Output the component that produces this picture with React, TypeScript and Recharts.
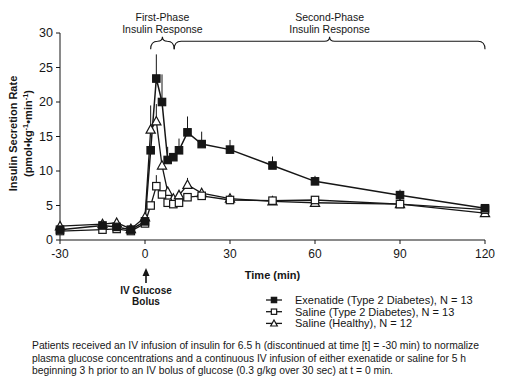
import { ErrorBar, Line, LineChart, ReferenceLine, XAxis, YAxis } from "recharts"

const times = [-30, -15, -10, -5, 0, 2, 4, 6, 8, 10, 12, 15, 20, 30, 45, 60, 90, 120]
const exenatide = [1.5, 2.1, 1.9, 1.5, 2.7, 13.0, 23.4, 20.0, 11.6, 12.0, 13.0, 15.6, 13.9, 13.1, 10.8, 8.5, 6.5, 4.6]
const exenatideErr = [0.2, 0.2, 0.2, 0.2, 0.3, 0, 3.5, 4.0, 1.9, 0, 1.7, 2.3, 1.8, 1.4, 1.3, 0.8, 0.8, 0.5]
const salineT2D = [1.3, 1.5, 1.6, 1.3, 2.4, 5.0, 7.8, 6.6, 5.4, 5.2, 5.4, 6.2, 6.4, 5.8, 5.7, 5.8, 5.2, 4.4]
const salineT2DErr = [0.2, 0.2, 0.2, 0.2, 0.3, 0.5, 1.6, 0, 0, 0, 0, 0, 0, 0, 0.4, 0.3, 0.3, 0.3]
const salineHealthy = [2.0, 2.3, 2.5, 1.6, 3.3, 16.0, 17.2, 10.8, 7.0, 6.0, 6.5, 8.0, 6.8, 6.0, 5.6, 5.4, 5.2, 3.9]
const salineHealthyErr = [0.2, 0.3, 0.3, 0.2, 0.3, 3.5, 2.5, 0, 0, 0, 0, 1.0, 0, 0.5, 0.5, 0.3, 0.3, 0.3]

const xTicks = [-30, 0, 30, 60, 90, 120]
const yTicks = [0, 5, 10, 15, 20, 25, 30]

const legendNames = [
  "Exenatide (Type 2 Diabetes), N = 13",
  "Saline (Type 2 Diabetes), N = 13",
  "Saline (Healthy), N = 12",
]

const footnote = [
  "Patients received an IV infusion of insulin for 6.5 h (discontinued at time [t] = -30 min) to normalize",
  "plasma glucose concentrations and a continuous IV infusion of either exenatide or saline for 5 h",
  "beginning 3 h prior to an IV bolus of glucose (0.3 g/kg over 30 sec) at t = 0 min.",
]

const data = times.map((t, i) => ({
  t,
  ex: exenatide[i],
  exErr: [0, exenatideErr[i]],
  t2d: salineT2D[i],
  t2dErr: [0, salineT2DErr[i]],
  hl: salineHealthy[i],
  hlErr: [0, salineHealthyErr[i]],
}))

const INK = "#161616"
const FONT = "'Liberation Sans', Arial, sans-serif"

function marker(kind: string, cx: number, cy: number, key?: any, s = 1) {
  if (kind === "tri") {
    return (
      <polygon
        key={key}
        points={`${cx},${cy - 4.8 * s} ${cx + 4.6 * s},${cy + 3.6 * s} ${cx - 4.6 * s},${cy + 3.6 * s}`}
        fill="#fff"
        stroke={INK}
        strokeWidth={1.2}
      />
    )
  }
  return (
    <rect
      key={key}
      x={cx - 3.7 * s}
      y={cy - 3.7 * s}
      width={7.4 * s}
      height={7.4 * s}
      fill={kind === "filled" ? INK : "#fff"}
      stroke={INK}
      strokeWidth={1.2}
    />
  )
}

const dotFor = (kind: string) => (props: any) => {
  const { cx, cy, index } = props
  if (cx == null || cy == null) return <g key={index} />
  return marker(kind, cx, cy, index)
}

const braceShape = (top: string, bottom: string) => (props: any) => {
  const { x1, x2, y1 } = props
  const y = y1
  const mid = (x1 + x2) / 2
  const d = `M${x1},${y + 8} Q${x1},${y} ${x1 + 7},${y} L${mid - 5},${y} Q${mid},${y} ${mid},${y - 4.5} Q${mid},${y} ${mid + 5},${y} L${x2 - 7},${y} Q${x2},${y} ${x2},${y + 8}`
  return (
    <g>
      <path d={d} fill="none" stroke={INK} strokeWidth={1.1} />
      <text x={mid} y={y - 20} textAnchor="middle" fontSize={10.5} fontFamily={FONT} fill={INK}>
        {top}
      </text>
      <text x={mid} y={y - 8} textAnchor="middle" fontSize={10.5} fontFamily={FONT} fill={INK}>
        {bottom}
      </text>
    </g>
  )
}

const YLabel = (props: any) => {
  const { viewBox } = props
  const cy = viewBox.y + viewBox.height / 2 - 3
  return (
    <g fontFamily={FONT} fontWeight="bold" fontSize={11} fill={INK}>
      <text x={17} y={cy} textAnchor="middle" transform={`rotate(-90 17 ${cy})`}>
        Insulin Secretion Rate
      </text>
      <text x={32} y={cy} textAnchor="middle" transform={`rotate(-90 32 ${cy})`}>
        (pmol•kg
        <tspan fontSize={7.5} dy={-4}>-1</tspan>
        <tspan dy={4}>•min</tspan>
        <tspan fontSize={7.5} dy={-4}>-1</tspan>
        <tspan dy={4}>)</tspan>
      </text>
    </g>
  )
}

const XLabel = (props: any) => {
  const { viewBox } = props
  return (
    <text
      x={viewBox.x + viewBox.width / 2}
      y={viewBox.y + 39}
      textAnchor="middle"
      fontFamily={FONT}
      fontWeight="bold"
      fontSize={11}
      fill={INK}
    >
      Time (min)
    </text>
  )
}

const kinds = ["filled", "open", "tri"]

export default function App() {
  return (
    <div style={{ position: "absolute", left: 0, top: 0, width: 507, height: 383, background: "#fff" }}>
      <LineChart width={507} height={383} data={data} margin={{ top: 33, right: 22, bottom: 113, left: 0 }}>
        <XAxis
          dataKey="t"
          type="number"
          domain={[-30, 120]}
          ticks={xTicks}
          height={30}
          tickSize={4}
          tickMargin={5}
          stroke={INK}
          tick={{ fill: INK, fontSize: 12, fontFamily: FONT }}
          label={<XLabel />}
        />
        <YAxis
          type="number"
          domain={[0, 30]}
          ticks={yTicks}
          width={60}
          tickSize={4}
          tickMargin={3}
          stroke={INK}
          tick={{ fill: INK, fontSize: 12.5, fontFamily: FONT }}
          label={<YLabel />}
        />
        <ReferenceLine
          segment={[{ x: 2, y: 28.8 }, { x: 10.3, y: 28.8 }]}
          ifOverflow="visible"
          shape={braceShape("First-Phase", "Insulin Response")}
        />
        <ReferenceLine
          segment={[{ x: 10.3, y: 28.8 }, { x: 120, y: 28.8 }]}
          ifOverflow="visible"
          shape={braceShape("Second-Phase", "Insulin Response")}
        />
        <Line
          dataKey="hl"
          name={legendNames[2]}
          stroke={INK}
          strokeWidth={1.3}
          isAnimationActive={false}
          dot={dotFor("tri")}
        >
          <ErrorBar dataKey="hlErr" width={0} stroke={INK} strokeWidth={1} />
        </Line>
        <Line
          dataKey="t2d"
          name={legendNames[1]}
          stroke={INK}
          strokeWidth={1.3}
          isAnimationActive={false}
          dot={dotFor("open")}
        >
          <ErrorBar dataKey="t2dErr" width={0} stroke={INK} strokeWidth={1} />
        </Line>
        <Line
          dataKey="ex"
          name={legendNames[0]}
          stroke={INK}
          strokeWidth={1.5}
          isAnimationActive={false}
          dot={dotFor("filled")}
        >
          <ErrorBar dataKey="exErr" width={0} stroke={INK} strokeWidth={1} />
        </Line>
      </LineChart>
      <svg
        width={507}
        height={383}
        style={{ position: "absolute", left: 0, top: 0, pointerEvents: "none" }}
      >
        <line x1={146} x2={146} y1={274} y2={283} stroke={INK} strokeWidth={1.6} />
        <polygon points="146,268 149.5,276 142.5,276" fill={INK} />
        <text x={146} y={294} textAnchor="middle" fontFamily={FONT} fontWeight="bold" fontSize={10} fill={INK}>
          IV Glucose
        </text>
        <text x={146} y={305} textAnchor="middle" fontFamily={FONT} fontWeight="bold" fontSize={10} fill={INK}>
          Bolus
        </text>
        {legendNames.map((name, i) => {
          const y = 300 + i * 11.7
          return (
            <g key={name}>
              <line x1={266} x2={282} y1={y} y2={y} stroke={INK} strokeWidth={1.3} />
              {marker(kinds[i], 274, y, undefined, 0.72)}
              <text x={295} y={y + 4} fontFamily={FONT} fontSize={11} fill={INK}>
                {name}
              </text>
            </g>
          )
        })}
        {footnote.map((line, i) => (
          <text
            key={i}
            x={32}
            y={349 + i * 12.5}
            fontFamily={FONT}
            fontSize={10.5}
            fill={INK}
            textLength={[447, 434, 361][i]}
            lengthAdjust="spacingAndGlyphs"
          >
            {line}
          </text>
        ))}
      </svg>
    </div>
  )
}
